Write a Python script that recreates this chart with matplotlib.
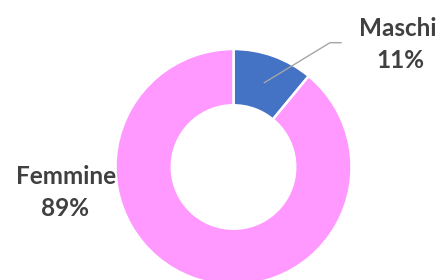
import matplotlib
matplotlib.use("Agg")
import matplotlib.pyplot as plt

categories = ["Maschi", "Femmine"]
values = [11, 89]
pct_labels = ["11%", "89%"]
colors = ["#4472C4", "#FF99FF"]

W, H = 441, 280
fig = plt.figure(figsize=(W / 100, H / 100), dpi=100)
ax = fig.add_axes([0, 0, 1, 1])

cx, cy, R = 233.5, 167.0, 118.0  # pixel geometry of the donut


def px(x, y):
    return ((x - cx) / R, (cy - y) / R)


ax.pie(values, colors=colors, startangle=90, counterclock=False, radius=1.0,
       wedgeprops=dict(width=0.477, edgecolor="white", linewidth=1.8))
ax.set_xlim(-cx / R, (W - cx) / R)
ax.set_ylim(-(H - cy) / R, cy / R)
ax.set_aspect("equal")
ax.axis("off")

tc = "#404040"
fs = 17.5
fam = ["Lato", "DejaVu Sans"]
for name, pct, (nx, ny), (qx, qy) in [
    (categories[0], pct_labels[0], (398, 28), (400, 60)),
    (categories[1], pct_labels[1], (66, 176), (65, 208)),
]:
    ax.text(*px(nx, ny), name, ha="center", va="center", fontsize=fs,
            fontweight="bold", color=tc, family=fam)
    ax.text(*px(qx, qy), pct, ha="center", va="center", fontsize=fs,
            fontweight="bold", color=tc, family=fam)

# leader line for Maschi
p0 = px(264.3, 82.7)
p1 = px(330, 42.7)
p2 = px(341, 42.7)
ax.plot([p0[0], p1[0], p2[0]], [p0[1], p1[1], p2[1]], color="#A6A6A6", lw=1.0)

fig.savefig("out.png", dpi=100)
